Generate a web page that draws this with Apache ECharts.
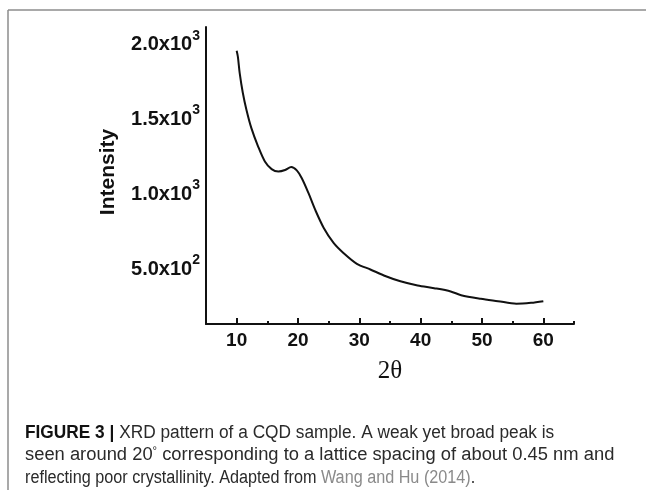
<!DOCTYPE html>
<html>
<head>
<meta charset="utf-8">
<script src="https://cdn.jsdelivr.net/npm/echarts@6/dist/echarts.min.js"></script>
<style>
  html, body { margin: 0; padding: 0; background: #fff; }
  #chart { width: 646px; height: 490px; }
</style>
</head>
<body>
<div id="chart"></div>
<script>
// XRD pattern: diffraction angle 2θ (degrees) and measured intensity
const twoTheta = [10.0, 10.2, 10.5, 11.0, 11.6, 12.4, 13.5, 14.6, 15.7, 16.8,
  17.9, 18.9, 19.8, 20.6, 21.7, 22.8, 24.2, 25.8, 27.4, 29.6,
  31.8, 34.0, 36.7, 39.5, 42.2, 44.9, 46.6, 49.8, 52.6, 55.6, 58.0, 60.0];
const intensity = [1941, 1900, 1790, 1660, 1545, 1423, 1300, 1200, 1149, 1133,
  1143, 1163, 1140, 1089, 989, 877, 755, 655, 588, 515,
  477, 437, 398, 370, 352, 330, 305, 281, 265, 248, 254, 265];

// Axis ticks and labels
const xMajorTicks = [10, 20, 30, 40, 50, 60];
const xMinorTicks = [15, 25, 35, 45, 55, 65];
const yTickValues = [500, 1000, 1500, 2000];
const yTickText = {500: ['5.0x10', '2'], 1000: ['1.0x10', '3'], 1500: ['1.5x10', '3'], 2000: ['2.0x10', '3']};

const xTitle = '2θ';
const yTitle = 'Intensity';
const captionLines = [
  '{b|FIGURE 3 |} XRD pattern of a CQD sample. A weak yet broad peak is',
  'seen around 20{sup|°} corresponding to a lattice spacing of about 0.45 nm and',
  'reflecting poor crystallinity. Adapted from {l|Wang and Hu (2014)}.'
];
// horizontal fit of each caption line (the caption face is a condensed sans)
const captionScale = [0.96, 1.02, 0.9];

const chart = echarts.init(document.getElementById('chart'), null, {renderer: 'canvas'});

const axisFont = 'Liberation Sans, Arial, sans-serif';
const captionFont = '"Liberation Sans", Arial, sans-serif';

const option = {
  backgroundColor: '#fff',
  animation: false,
  grid: {left: 206, right: 72, top: 27, bottom: 166, containLabel: false},
  xAxis: [
    {
      type: 'value', min: 5, max: 65,
      axisLine: {show: true, onZero: false, lineStyle: {color: '#111', width: 2}},
      axisTick: {show: true, inside: true, length: 6, customValues: xMajorTicks,
        lineStyle: {color: '#111', width: 2}},
      axisLabel: {show: true, customValues: xMajorTicks, margin: 7,
        fontFamily: axisFont, fontWeight: 'bold', fontSize: 19, color: '#111'},
      splitLine: {show: false},
      name: xTitle, nameLocation: 'middle', nameGap: 35,
      nameTextStyle: {fontFamily: '"Liberation Serif", "Times New Roman", serif',
        fontSize: 25, color: '#111'}
    },
    {
      type: 'value', min: 5, max: 65, position: 'bottom',
      axisLine: {show: false, onZero: false},
      axisTick: {show: true, inside: true, length: 3, customValues: xMinorTicks,
        lineStyle: {color: '#111', width: 2}},
      axisLabel: {show: false},
      splitLine: {show: false}
    }
  ],
  yAxis: {
    type: 'value', min: 112, max: 2100,
    axisLine: {show: true, onZero: false, lineStyle: {color: '#111', width: 2}},
    axisTick: {show: false},
    splitLine: {show: false},
    axisLabel: {
      show: true, customValues: yTickValues, margin: 6,
      formatter: function (v) {
        const t = yTickText[v];
        return t ? '{b|' + t[0] + '}{s|' + t[1] + '}' : '';
      },
      rich: {
        b: {fontFamily: axisFont, fontWeight: 'bold', fontSize: 20, color: '#111',
          lineHeight: 26, verticalAlign: 'bottom'},
        s: {fontFamily: axisFont, fontWeight: 'bold', fontSize: 14, color: '#111',
          lineHeight: 15, verticalAlign: 'top'}
      }
    }
  },
  series: [{
    type: 'line',
    xAxisIndex: 0,
    data: twoTheta.map((x, i) => [x, intensity[i]]),
    showSymbol: false,
    smooth: 0.3,
    lineStyle: {color: '#111', width: 2},
    itemStyle: {color: '#111'}
  }],
  graphic: [
    // panel frame
    {type: 'line', shape: {x1: 8, y1: 10, x2: 646, y2: 10},
      style: {stroke: '#8c8c8c', lineWidth: 1.5}},
    {type: 'line', shape: {x1: 8, y1: 10, x2: 8, y2: 490},
      style: {stroke: '#8c8c8c', lineWidth: 1.5}},
    // y axis title
    {type: 'text', x: 108, y: 172, rotation: Math.PI / 2,
      style: {text: yTitle, fontFamily: axisFont, fontWeight: 'bold', fontSize: 21,
        fill: '#111', align: 'center', verticalAlign: 'middle'}},
    // caption
    ...captionLines.map((line, i) => ({
      type: 'text', x: 25, y: 433 + i * 22.5, scaleX: captionScale[i],
      style: {
        text: line, fontFamily: captionFont, fontSize: 18, fill: '#2a2a2a',
        verticalAlign: 'middle',
        rich: {
          b: {fontFamily: captionFont, fontSize: 18, fontWeight: 'bold', fill: '#111'},
          l: {fontFamily: captionFont, fontSize: 18, fill: '#8a8a8a'},
          sup: {fontFamily: captionFont, fontSize: 11, fill: '#2a2a2a', verticalAlign: 'top', lineHeight: 20}
        }
      }
    }))
  ]
};

chart.setOption(option);
</script>
</body>
</html>
